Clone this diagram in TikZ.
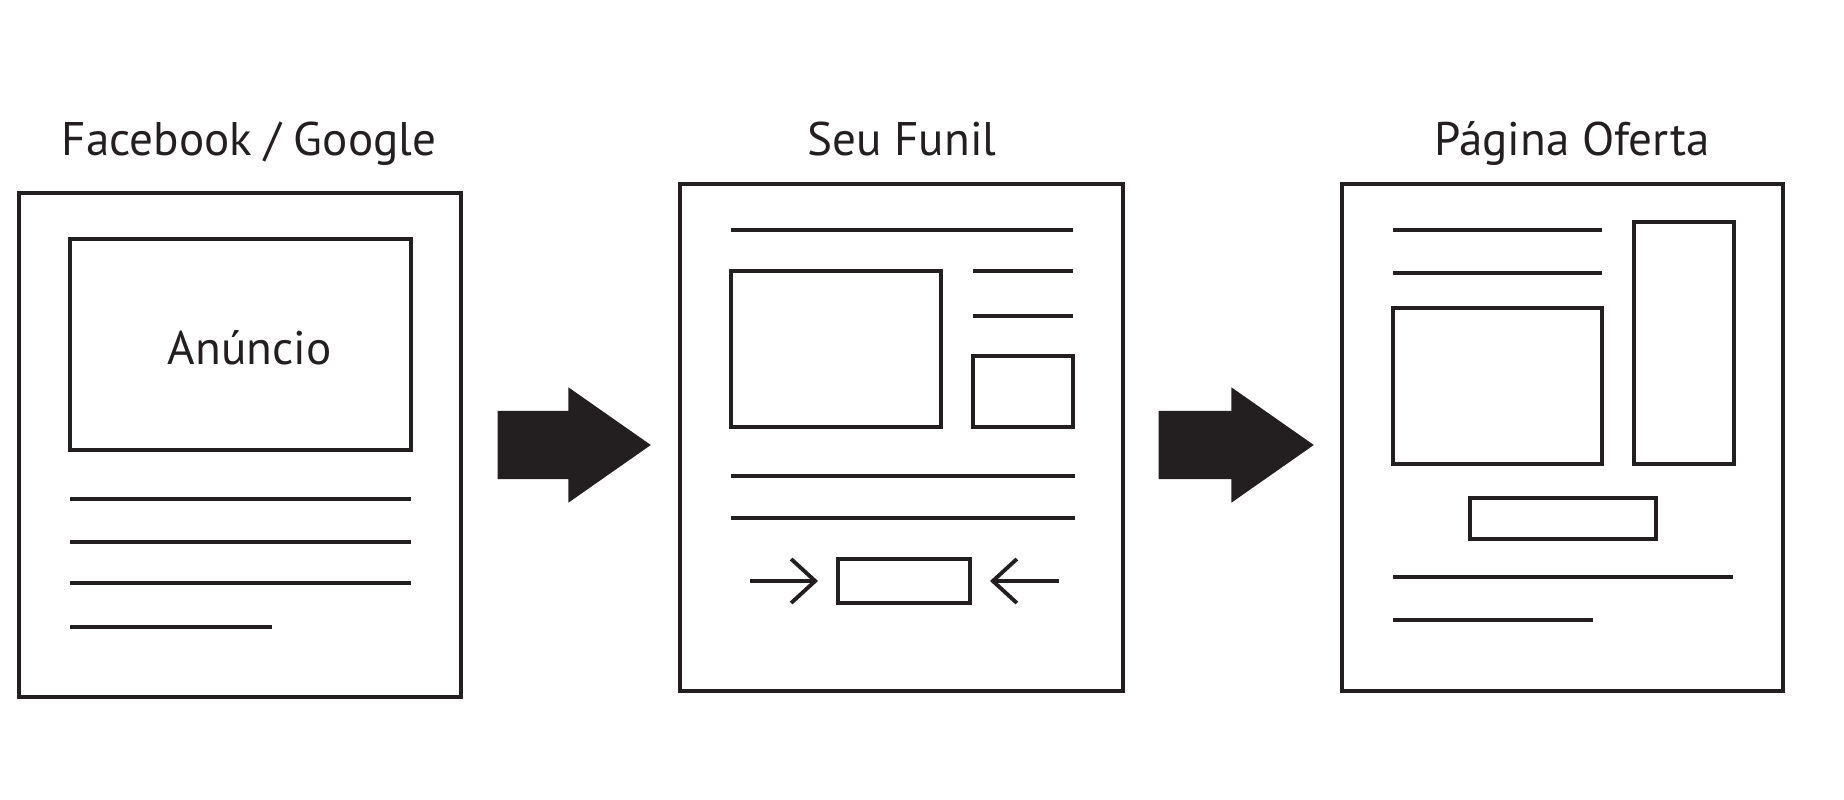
\documentclass[tikz,border=0pt]{standalone}
\usepackage{fontspec}
\setmainfont{PT Sans}
\usetikzlibrary{arrows.meta, positioning, shapes.arrows}
\definecolor{tinta}{RGB}{35,31,32}

\begin{document}
\begin{tikzpicture}[
    x=0.01cm, y=-0.01cm,
    quadro/.style={rectangle, draw=tinta, line width=1.1pt, inner sep=0pt},
    linha/.style={draw=tinta, line width=1.1pt},
    titulo/.style={anchor=base, text=tinta, font=\fontsize{13.4}{16}\selectfont},
    seta/.style={single arrow, fill=tinta, draw=none, inner xsep=0pt,
                 inner ysep=0.335cm, single arrow head extend=0.235cm,
                 single arrow tip angle=70, anchor=tail},
    mira/.style={-{Straight Barb[length=2.4mm, width=4.4mm]}, line width=1.1pt,
                 draw=tinta, shorten >=1.8mm},
  ]
  \useasboundingbox (0,0) rectangle (1844,800);

  % as três páginas
  \node[quadro, minimum width=4.42cm, minimum height=5.04cm] (face) at (240,445) {};
  \node[quadro, minimum width=4.43cm, minimum height=5.07cm] (funil) at (901.5,437.5) {};
  \node[quadro, minimum width=4.41cm, minimum height=5.07cm] (oferta) at (1562.5,437.5) {};

  \node[titulo] (tface) at (249,155) {Facebook / Google};
  \node[titulo] (tfunil) at (902,155) {Seu Funil};
  \node[titulo] (toferta) at (1572,155) {Página Oferta};

  % Facebook / Google
  \node[quadro, minimum width=3.41cm, minimum height=2.11cm] (anuncio) at (240.5,344.5) {};
  \node[titulo] (tanuncio) at (249.5,364) {Anúncio};
  \foreach \y in {499,542,583} \draw[linha] (70,\y) -- (411,\y);
  \draw[linha] (70,627) -- (272,627);

  % Seu Funil
  \draw[linha] (731,230) -- (1073,230);
  \node[quadro, minimum width=2.10cm, minimum height=1.56cm] (imgF) at (836,349) {};
  \foreach \y in {271,316} \draw[linha] (973,\y) -- (1073,\y);
  \node[quadro, minimum width=1.00cm, minimum height=0.71cm] (vidF) at (1023,391.5) {};
  \foreach \y in {476,518} \draw[linha] (731,\y) -- (1075,\y);
  \node[quadro, minimum width=1.32cm, minimum height=0.44cm] (botao) at (904,581) {};
  \coordinate (de) at (750,581);
  \coordinate (ate) at (1059,581);
  \draw[mira] (de) -- (botao.west);
  \draw[mira] (ate) -- (botao.east);

  % Página Oferta
  \foreach \y in {230,273} \draw[linha] (1393,\y) -- (1602,\y);
  \node[quadro, minimum width=2.09cm, minimum height=1.56cm] (imgO) at (1497.5,386) {};
  \node[quadro, minimum width=1.00cm, minimum height=2.42cm] (lateral) at (1684,343) {};
  \node[quadro, minimum width=1.86cm, minimum height=0.41cm] (comprar) at (1563,518.5) {};
  \draw[linha] (1393,577) -- (1733,577);
  \draw[linha] (1393,620) -- (1593,620);

  % setas grandes
  \node[seta, minimum height=1.53cm] (passo1) at (497,445) {};
  \node[seta, minimum height=1.55cm] (passo2) at (1158,445) {};
\end{tikzpicture}
\end{document}
